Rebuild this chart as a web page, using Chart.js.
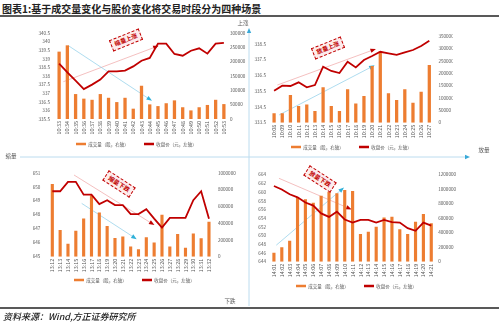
<!DOCTYPE html>
<html>
<head>
<meta charset="utf-8">
<title>四种场景</title>
<script src="https://cdn.jsdelivr.net/npm/chart.js@4.4.1/dist/chart.umd.min.js"></script>
<style>
  body { margin: 0; background: #fff; }
  #page { position: relative; width: 499px; height: 326px; overflow: hidden; font-family: "Noto Sans CJK SC", sans-serif; }
  #page canvas { position: absolute; }
  #cross { position: absolute; left: 0; top: 0; }
  .title { position: absolute; left: 2px; top: 3px; font-size: 10px; font-weight: bold; color: #222; line-height: 12px; white-space: nowrap; }
  .rule { position: absolute; left: 0; width: 499px; height: 2px; background: #595959; }
  .tag { position: absolute; font-size: 5.5px; color: #595959; white-space: nowrap; transform: translate(-50%, -50%); line-height: 1; }
  .stamp { position: absolute; border: 1px dashed #c00000; background: #fdecec; color: #c00000; font-size: 6px; padding: 2px 3px; white-space: nowrap; line-height: 1; font-weight: bold; }
  .source { position: absolute; left: 3px; top: 311px; font-size: 9px; font-style: italic; font-weight: 500; color: #222; line-height: 12px; white-space: nowrap; }
</style>
</head>
<body>
<div id="page">
  <div class="title">图表1:基于成交量变化与股价变化将交易时段分为四种场景</div>
  <div class="rule" style="top:15px"></div>

  <canvas id="upShrink"></canvas>
  <canvas id="upExpand"></canvas>
  <canvas id="downShrink"></canvas>
  <canvas id="downExpand"></canvas>

  <svg id="cross" width="499" height="326">
    <line x1="249" y1="31" x2="249" y2="306" stroke="#bcdcef" stroke-width="1"/>
    <polygon points="249,28 246.8,33 251.2,33" fill="#3aa9d8"/>
    <line x1="20" y1="157" x2="466" y2="157" stroke="#bcdcef" stroke-width="1"/>
    <polygon points="470,157 465,154.8 465,159.2" fill="#3aa9d8"/>
  </svg>

  <div class="tag" style="left:243px;top:24px">上涨</div>
  <div class="tag" style="left:230px;top:302px">下跌</div>
  <div class="tag" style="left:11px;top:157px">缩量</div>
  <div class="tag" style="left:484px;top:151px">放量</div>

  <div class="rule" style="top:307px"></div>
  <div class="source">资料来源：Wind,方正证券研究所</div>
</div>

<script>
// 缩量上涨 (top left)
const timesA = ['10:33','10:34','10:35','10:36','10:37','10:38','10:39','10:40','10:41','10:42','10:43',
                '10:44','10:45','10:46','10:47','10:48','10:49','10:50','10:51','10:52','10:53'];
const volumeA = [235000, 257000, 87000, 71000, 67000, 87000, 74000, 59000, 74000, 36000, 116000,
                 51000, 45000, 55000, 65000, 41000, 30000, 41000, 49000, 67000, 52000];
const closeA = [338.72, 338.21, 337.73, 337.24, 337.5, 337.79, 338.27, 338.27, 338.31, 338.56, 338.89,
                339.05, 339.88, 339.88, 339.28, 339.18, 339.47, 339.61, 339.3, 339.88, 339.92];

// 放量上涨 (top right)
const timesB = ['10:08','10:09','10:10','10:11','10:12','10:13','10:14','10:15','10:16','10:17',
                '10:18','10:19','10:20','10:21','10:22','10:23','10:24','10:25','10:26','10:27'];
const volumeB = [38000, 38000, 112000, 67000, 73000, 47000, 143000, 67000, 47000, 135000,
                 78000, 108000, 229000, 287000, 119000, 92000, 135000, 81000, 125000, 233000];
const closeB = [335.53, 335.85, 335.83, 336.06, 335.74, 335.89, 337.05, 336.78, 336.65, 337.37,
                337.01, 337.48, 337.73, 338.0, 337.9, 337.8, 337.96, 338.11, 338.37, 338.7];

// 缩量下跌 (bottom left)
const timesC = ['13:12','13:13','13:14','13:15','13:16','13:17','13:18','13:19','13:20','13:21','13:22',
                '13:23','13:24','13:25','13:26','13:27','13:28','13:29','13:30','13:31','13:32'];
const volumeC = [865000, 319000, 154000, 308000, 454000, 731000, 527000, 365000, 223000, 242000, 123000,
                 88000, 231000, 169000, 500000, 123000, 269000, 108000, 277000, 219000, 415000];
const closeC = [649.68, 649.68, 650.35, 650.35, 649.43, 649.43, 648.76, 649.04, 648.69, 648.69, 648.05,
                648.05, 648.39, 647.72, 647.08, 647.77, 647.77, 647.77, 649.04, 649.68, 647.72];

// 放量下跌 (bottom right)
const timesD = ['14:01','14:02','14:03','14:04','14:05','14:06','14:07','14:08','14:09','14:10','14:11',
                '14:12','14:13','14:14','14:15','14:16','14:17','14:18','14:19','14:20','14:21'];
const volumeD = [124000, 198000, 290000, 887000, 860000, 814000, 910000, 965000, 943000, 988000, 975000,
                 382000, 414000, 483000, 611000, 621000, 446000, 382000, 552000, 657000, 529000];
const closeD = [661.4, 660.6, 659.5, 658.8, 657.6, 656.9, 655.1, 654.3, 655.5, 653.7, 653.0,
                653.6, 653.6, 653.0, 653.6, 653.1, 653.0, 651.7, 651.1, 653.0, 652.3];

// axis ranges [min, max, step]
const priceAxisA = [335.5, 340.5, 0.5], volAxisA = [0, 300000, 50000];
const priceAxisB = [333.5, 339, 0.5],   volAxisB = [0, 350000, 50000];
const priceAxisC = [645, 651, 1],       volAxisC = [0, 1000000, 100000];
const priceAxisD = [644, 664, 2],       volAxisD = [0, 1200000, 200000];

const VOL_LABEL = '成交量（股，右轴）';
const CLOSE_LABEL = '收盘价（元，左轴）';

Chart.defaults.font.family = '"Noto Sans CJK SC", "Liberation Sans", sans-serif';
Chart.defaults.color = '#595959';
Chart.defaults.animation = false;

const FONT_TICK = 4.6;
const FONT_XTICK = 5.4;
const FONT_LEGEND = 4.5;
const LEGEND_PAD = 4;
const LEGEND_GAP = '\u3000\u3000\u3000'; // widens the space after the first legend item
const BOX_W = 10;
const BOX_H = 2.5;
const ORANGE = '#ed7d31';
const DARKRED = '#c00000';

const measureCtx = document.createElement('canvas').getContext('2d');
function textWidth(t, size) {
    measureCtx.font = size + 'px ' + Chart.defaults.font.family;
    return measureCtx.measureText(t).width;
}

const tickText = v => String(+Number(v).toFixed(2));

// trend arrows, given in (category index, left-axis price)
const trendArrows = {
    id: 'trendArrows',
    beforeDatasetsDraw(chart, args, opts) {
        const { ctx, scales: { x, y } } = chart;
        ctx.save();
        (opts.list || []).forEach(a => {
            const x0 = x.getPixelForValue(a.from[0]), y0 = y.getPixelForValue(a.from[1]);
            const x1 = x.getPixelForValue(a.to[0]), y1 = y.getPixelForValue(a.to[1]);
            ctx.strokeStyle = a.line;
            ctx.lineWidth = 1;
            ctx.beginPath();
            ctx.moveTo(x0, y0);
            ctx.lineTo(x1, y1);
            ctx.stroke();
            const ang = Math.atan2(y1 - y0, x1 - x0), s = 3.2;
            ctx.fillStyle = a.head;
            ctx.beginPath();
            ctx.moveTo(x1 + Math.cos(ang) * s, y1 + Math.sin(ang) * s);
            ctx.lineTo(x1 + Math.cos(ang + 2.4) * s, y1 + Math.sin(ang + 2.4) * s);
            ctx.lineTo(x1 + Math.cos(ang - 2.4) * s, y1 + Math.sin(ang - 2.4) * s);
            ctx.closePath();
            ctx.fill();
        });
        ctx.restore();
    }
};

const PINK = 'rgba(235,140,140,0.55)';
const SKY = 'rgba(140,205,232,0.7)';
const RED_HEAD = '#c00000';
const BLUE_HEAD = '#2fb0d8';

function mountChart(id, spec, labels, volumes, closes, priceAxis, volAxis, arrows) {
    const c = spec.canvas, p = spec.plot;
    const cv = document.getElementById(id);
    cv.width = c.w;
    cv.height = c.h;
    cv.style.left = c.x + 'px';
    cv.style.top = c.y + 'px';

    const lineW = [VOL_LABEL + LEGEND_GAP, CLOSE_LABEL].reduce(
        (s, t) => s + BOX_W + FONT_LEGEND / 2 + textWidth(t, FONT_LEGEND) + LEGEND_PAD, 0);
    const diff = 2 * spec.legend.x - LEGEND_PAD + lineW - (2 * c.x + c.w);
    const padL = Math.max(diff, 0), padR = Math.max(-diff, 0);
    const itemH = Math.max(FONT_LEGEND, BOX_H);
    const padB = c.y + c.h - spec.legend.y - 10 - itemH / 2;
    const legendTop = spec.legend.y - LEGEND_PAD - itemH / 2;
    const xH = legendTop - p.y1;
    const leftW = p.x0 - (c.x + padL);
    const rightW = (c.x + c.w - padR) - p.x1;

    return new Chart(cv, {
        type: 'bar',
        data: {
            labels: labels,
            datasets: [{
                type: 'bar',
                label: VOL_LABEL,
                data: volumes,
                yAxisID: 'y1',
                backgroundColor: ORANGE,
                barPercentage: 0.5,
                categoryPercentage: 0.8,
                order: 2
            }, {
                type: 'line',
                label: CLOSE_LABEL,
                data: closes,
                yAxisID: 'y',
                borderColor: DARKRED,
                backgroundColor: DARKRED,
                borderWidth: 1.8,
                pointRadius: 0,
                tension: 0,
                order: 1
            }]
        },
        options: {
            responsive: false,
            events: [],
            layout: { padding: { left: padL, right: padR, top: p.y0 - c.y, bottom: padB } },
            plugins: {
                tooltip: { enabled: false },
                trendArrows: { list: arrows },
                legend: {
                    position: 'bottom',
                    labels: {
                        boxWidth: BOX_W,
                        boxHeight: BOX_H,
                        padding: LEGEND_PAD,
                        font: { size: FONT_LEGEND },
                        color: '#595959',
                        generateLabels: chart => chart.data.datasets.map((ds, i) => ({
                            text: i === 0 ? ds.label + LEGEND_GAP : ds.label,
                            fillStyle: ds.backgroundColor,
                            strokeStyle: ds.backgroundColor,
                            lineWidth: 0,
                            hidden: false,
                            datasetIndex: i,
                            fontColor: '#595959'
                        }))
                    }
                }
            },
            scales: {
                x: {
                    grid: { display: false, drawTicks: false },
                    border: { display: false },
                    ticks: { autoSkip: false, minRotation: 90, maxRotation: 90, padding: 2, font: { size: FONT_XTICK } },
                    afterFit: s => { s.height = xH; }
                },
                y: {
                    position: 'left',
                    min: priceAxis[0], max: priceAxis[1],
                    grid: { display: false, drawTicks: false },
                    border: { display: false },
                    ticks: { stepSize: priceAxis[2], padding: spec.padLeft, font: { size: FONT_TICK }, callback: tickText },
                    afterFit: s => { s.width = leftW; }
                },
                y1: {
                    position: 'right',
                    min: volAxis[0], max: volAxis[1],
                    grid: { display: false, drawTicks: false },
                    border: { display: false },
                    ticks: { stepSize: volAxis[2], padding: spec.padRight, font: { size: FONT_TICK }, callback: tickText },
                    afterFit: s => { s.width = rightW; }
                }
            }
        },
        plugins: [trendArrows]
    });
}

mountChart('upShrink', {
    canvas: { x: 0, y: 22, w: 249, h: 140 },
    plot: { x0: 55, x1: 228, y0: 33, y1: 119 },
    legend: { x: 76, y: 144 },
    padLeft: 5, padRight: 2
}, timesA, volumeA, closeA, priceAxisA, volAxisA, [
    { from: [0.52, 337.67], to: [11.72, 339.69], line: PINK, head: RED_HEAD },
    { from: [1.13, 339.76], to: [10.95, 336.66], line: SKY, head: BLUE_HEAD }
]);

mountChart('upExpand', {
    canvas: { x: 250, y: 22, w: 249, h: 140 },
    plot: { x0: 270, x1: 433.4, y0: 36, y1: 122.7 },
    legend: { x: 291, y: 147 },
    padLeft: 4, padRight: 5
}, timesB, volumeB, closeB, priceAxisB, volAxisB, [
    { from: [0.4, 335.89], to: [12.1, 338.11], line: PINK, head: RED_HEAD },
    { from: [0.61, 333.99], to: [11.96, 337.05], line: SKY, head: BLUE_HEAD }
]);

mountChart('downShrink', {
    canvas: { x: 0, y: 162, w: 249, h: 140 },
    plot: { x0: 48.4, x1: 212.9, y0: 170, y1: 256.7 },
    legend: { x: 74, y: 280 },
    padLeft: 8, padRight: 5
}, timesC, volumeC, closeC, priceAxisC, volAxisC, [
    { from: [2.77, 650.84], to: [12.69, 647.38], line: PINK, head: RED_HEAD },
    { from: [3.75, 648.81], to: [10.43, 646.38], line: SKY, head: BLUE_HEAD }
]);

mountChart('downExpand', {
    canvas: { x: 250, y: 162, w: 249, h: 140 },
    plot: { x0: 270, x1: 435.2, y0: 174.7, y1: 261.7 },
    legend: { x: 296, y: 286 },
    padLeft: 4, padRight: 3
}, timesD, volumeD, closeD, priceAxisD, volAxisD, [
    { from: [0.64, 663.17], to: [9.5, 656.3], line: PINK, head: RED_HEAD },
    { from: [0.3, 647.8], to: [8.6, 660.6], line: SKY, head: BLUE_HEAD }
]);

// dashed stamps naming each scene
const stamps = [
    { text: '缩量上涨', cx: 126, cy: 40, angle: -22 },
    { text: '放量上涨', cx: 328, cy: 48, angle: -22 },
    { text: '缩量下跌', cx: 119, cy: 184, angle: 33 },
    { text: '放量下跌', cx: 320, cy: 179, angle: 33 }
];
const page = document.getElementById('page');
stamps.forEach(s => {
    const el = document.createElement('div');
    el.className = 'stamp';
    el.textContent = s.text;
    el.style.left = s.cx + 'px';
    el.style.top = s.cy + 'px';
    el.style.transform = `translate(-50%, -50%) rotate(${s.angle}deg)`;
    page.appendChild(el);
});
</script>
</body>
</html>
